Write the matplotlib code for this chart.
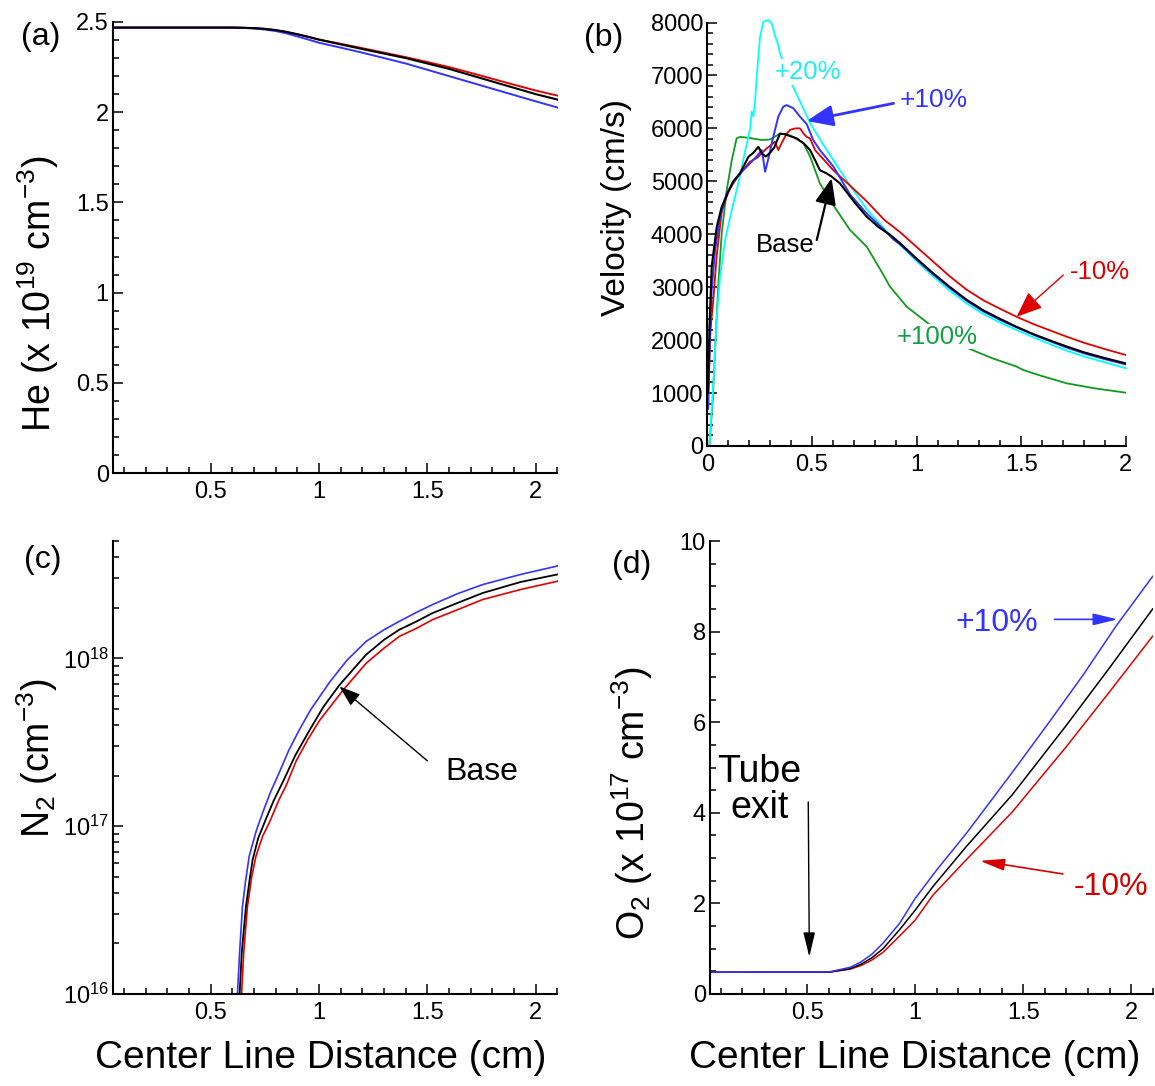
import matplotlib
matplotlib.use("Agg")
import matplotlib.pyplot as plt
from matplotlib.ticker import (MultipleLocator, FormatStrFormatter, FixedLocator,
                               FixedFormatter, LogLocator, NullFormatter)

plt.rcParams["font.family"] = "Liberation Sans"
plt.rcParams["mathtext.fontset"] = "custom"
plt.rcParams["mathtext.rm"] = "Liberation Sans"
plt.rcParams["mathtext.it"] = "Liberation Sans:italic"
plt.rcParams["mathtext.bf"] = "Liberation Sans:bold"
plt.rcParams["mathtext.default"] = "regular"

RED = "#e00000"
BLUE = "#3333ff"
CYAN = "#00ffff"
GREEN = "#109a20"

# (a) He density along the centre line, x 10^19 cm^-3
he_x = [0.05, 0.6, 0.65, 0.7, 0.75, 0.8, 0.85, 0.9, 0.95, 1.0, 1.1, 1.2, 1.3, 1.4,
        1.5, 1.6, 1.7, 1.8, 1.9, 2.0, 2.1]
he_base = [2.469, 2.469, 2.468, 2.466, 2.462, 2.455, 2.445, 2.432, 2.418, 2.402, 2.376,
           2.35, 2.325, 2.30, 2.27, 2.24, 2.205, 2.17, 2.135, 2.10, 2.07]
he_m10 = [2.469, 2.469, 2.468, 2.466, 2.462, 2.455, 2.445, 2.432, 2.418, 2.403, 2.379,
          2.355, 2.33, 2.305, 2.278, 2.25, 2.218, 2.185, 2.152, 2.12, 2.092]
he_p10 = [2.469, 2.469, 2.467, 2.464, 2.458, 2.45, 2.437, 2.42, 2.403, 2.385, 2.358,
          2.33, 2.30, 2.27, 2.235, 2.20, 2.165, 2.13, 2.095, 2.06, 2.026]

# (b) velocity, cm/s
vb_x = [0.003, 0.01, 0.021, 0.045, 0.069, 0.1, 0.124, 0.156, 0.196, 0.22, 0.244, 0.262,
        0.28, 0.3, 0.32, 0.347, 0.37, 0.427, 0.46, 0.491, 0.515, 0.538, 0.57, 0.594,
        0.634, 0.7, 0.762, 0.82, 0.873, 0.921, 1.0, 1.08, 1.16, 1.24, 1.32, 1.40,
        1.478, 1.56, 1.64, 1.717, 1.8, 1.9, 2.0]
vb_base = [1000, 2200, 3390, 4140, 4520, 4800, 5000, 5150, 5460, 5540, 5650, 5520,
           5470, 5540, 5640, 5900, 5890, 5810, 5720, 5590, 5400, 5210, 5150, 5090,
           4960, 4620, 4330, 4130, 3990, 3830, 3540, 3260, 3000, 2760, 2560, 2400,
           2250, 2110, 1990, 1880, 1770, 1660, 1560]

vp10_x = [0.004, 0.013, 0.021, 0.037, 0.061, 0.093, 0.124, 0.172, 0.204, 0.236, 0.26,
          0.268, 0.276, 0.29, 0.308, 0.339, 0.363, 0.379, 0.411, 0.443, 0.475, 0.506,
          0.538, 0.602, 0.682, 0.762, 0.846, 0.89, 0.921, 1.0, 1.08, 1.16, 1.24, 1.32,
          1.40, 1.478, 1.56, 1.64, 1.717, 1.8, 1.9, 2.0]
vb_p10 = [700, 2070, 2950, 3700, 4330, 4770, 4990, 5210, 5340, 5470, 5590, 5400, 5180,
          5400, 5720, 6220, 6410, 6440, 6380, 6220, 6080, 5780, 5590, 5280, 4750,
          4390, 4080, 3900, 3810, 3520, 3240, 2980, 2740, 2540, 2380, 2240, 2100,
          1975, 1860, 1750, 1640, 1540]

vp20_x = [0.01, 0.013, 0.029, 0.045, 0.061, 0.085, 0.117, 0.148, 0.164, 0.18, 0.205,
          0.212, 0.22, 0.228, 0.236, 0.252, 0.268, 0.291, 0.308, 0.323, 0.339, 0.347,
          0.398, 0.45, 0.491, 0.55, 0.602, 0.682, 0.762, 0.846, 0.921, 1.0, 1.08,
          1.16, 1.24, 1.32, 1.40, 1.478, 1.56, 1.64, 1.717, 1.8, 1.9, 2.0]
vb_p20 = [0, 180, 1180, 2440, 3200, 3890, 4460, 4960, 5250, 5560, 6000, 6320, 6230,
          6500, 6980, 7730, 8015, 8047, 7985, 7760, 7575, 7420, 6880, 6450, 6100,
          5720, 5400, 4920, 4470, 4100, 3800, 3490, 3200, 2930, 2690, 2490, 2330,
          2190, 2050, 1920, 1800, 1690, 1580, 1468]

vm10_x = [0.003, 0.015, 0.029, 0.045, 0.069, 0.1, 0.124, 0.156, 0.204, 0.24, 0.283,
          0.31, 0.323, 0.339, 0.355, 0.379, 0.395, 0.42, 0.443, 0.46, 0.475, 0.491,
          0.515, 0.602, 0.682, 0.762, 0.846, 0.921, 1.0, 1.08, 1.16, 1.24, 1.32, 1.40,
          1.478, 1.56, 1.64, 1.717, 1.8, 1.9, 2.0]
vb_m10 = [900, 2200, 2770, 3600, 4430, 4800, 4960, 5150, 5370, 5450, 5620, 5700,
          5750, 5590, 5720, 5900, 5970, 6000, 6000, 5900, 5840, 5810, 5590, 5210,
          4920, 4620, 4270, 4040, 3760, 3480, 3200, 2950, 2750, 2590, 2440, 2300,
          2180, 2065, 1950, 1830, 1719]

vp100_x = [0.01, 0.026, 0.037, 0.053, 0.069, 0.093, 0.117, 0.14, 0.156, 0.2, 0.26, 0.3,
           0.347, 0.38, 0.411, 0.459, 0.491, 0.538, 0.602, 0.682, 0.762, 0.833, 0.873,
           0.953, 1.064, 1.247, 1.36, 1.478, 1.51, 1.6, 1.717, 1.85, 2.0]
vb_p100 = [0, 870, 1810, 3070, 4020, 4840, 5400, 5810, 5840, 5820, 5780, 5790, 5900,
           5890, 5840, 5720, 5470, 4960, 4550, 4080, 3765, 3290, 3010, 2630, 2290,
           1845, 1660, 1500, 1435, 1320, 1184, 1090, 1007]

# (c) N2 density, cm^-3
n2_p10_x = [0.624, 0.634, 0.647, 0.66, 0.678, 0.71, 0.74, 0.775, 0.817, 0.86, 0.908,
            0.96, 1.05, 1.13, 1.217, 1.3, 1.37, 1.45, 1.524, 1.64, 1.755, 1.93, 2.1]
n2_p10 = [1.0e16, 1.78e16, 3.31e16, 4.57e16, 6.61e16, 9.33e16, 1.20e17, 1.58e17,
          2.09e17, 2.82e17, 3.72e17, 4.90e17, 7.24e17, 9.77e17, 1.26e18, 1.48e18,
          1.66e18, 1.88e18, 2.09e18, 2.43e18, 2.75e18, 3.16e18, 3.55e18]
n2_base_x = [0.634, 0.644, 0.663, 0.68, 0.694, 0.72, 0.755, 0.79, 0.832, 0.89, 0.956,
             1.02, 1.094, 1.217, 1.3, 1.37, 1.45, 1.524, 1.64, 1.755, 1.93, 2.1]
n2_base = [1.0e16, 1.78e16, 3.31e16, 4.79e16, 6.31e16, 8.51e16, 1.10e17, 1.41e17,
           1.82e17, 2.63e17, 3.72e17, 5.13e17, 6.92e17, 1.05e18, 1.29e18, 1.48e18,
           1.66e18, 1.86e18, 2.14e18, 2.45e18, 2.85e18, 3.16e18]
n2_m10_x = [0.643, 0.653, 0.67, 0.69, 0.709, 0.74, 0.771, 0.817, 0.848, 0.895, 0.95,
            1.003, 1.111, 1.217, 1.3, 1.37, 1.45, 1.524, 1.64, 1.755, 1.93, 2.1]
n2_m10 = [1.0e16, 1.78e16, 3.31e16, 5.01e16, 6.61e16, 8.71e16, 1.05e17, 1.45e17,
          1.74e17, 2.45e17, 3.31e17, 4.27e17, 6.46e17, 9.33e17, 1.15e18, 1.35e18,
          1.51e18, 1.70e18, 1.95e18, 2.24e18, 2.57e18, 2.88e18]

# (d) O2 density, x 10^17 cm^-3
o2_p10_x = [0.05, 0.6, 0.7, 0.75, 0.8, 0.851, 0.928, 1.0, 1.1, 1.236, 1.35, 1.468,
            1.622, 1.776, 1.93, 2.1]
o2_p10 = [0.48, 0.485, 0.59, 0.71, 0.88, 1.12, 1.56, 2.11, 2.74, 3.54, 4.26, 5.01,
          6.01, 7.03, 8.12, 9.22]
o2_x = [0.05, 0.6, 0.7, 0.75, 0.8, 0.851, 0.928, 1.0, 1.082, 1.236, 1.45, 1.70, 1.9, 2.1]
o2_base = [0.48, 0.482, 0.56, 0.66, 0.8, 1.0, 1.42, 1.85, 2.37, 3.25, 4.40, 5.93, 7.2, 8.5]
o2_m10 = [0.48, 0.48, 0.55, 0.63, 0.75, 0.92, 1.28, 1.63, 2.18, 2.96, 4.02, 5.46, 6.67, 7.9]


def style(ax, xminor, yminor=None):
    for s in ("top", "right"):
        ax.spines[s].set_visible(False)
    for s in ("left", "bottom"):
        ax.spines[s].set_linewidth(1.5)
    ax.tick_params(which="both", direction="in", labelsize=17, width=1.1)
    ax.tick_params(which="major", length=7.5)
    ax.tick_params(which="minor", length=4.5)
    ax.tick_params(axis="y", pad=3)
    ax.tick_params(axis="x", pad=6)
    ax.xaxis.set_minor_locator(MultipleLocator(xminor))
    ax.xaxis.set_major_formatter(FormatStrFormatter("%g"))
    if yminor is not None:
        ax.yaxis.set_minor_locator(MultipleLocator(yminor))
        ax.yaxis.set_major_formatter(FormatStrFormatter("%g"))


def arrow(ax, tip, tail, color, lw, hl, hw):
    ax.annotate("", xy=tip, xytext=tail,
                arrowprops=dict(arrowstyle=f"-|>,head_length={hl},head_width={hw}",
                                color=color, lw=lw, shrinkA=0, shrinkB=0,
                                mutation_scale=1))


fig = plt.figure(figsize=(11.55, 10.86), dpi=100)
W, H = 1155, 1086

# ---- (a) He
ax = fig.add_axes([113 / W, 1 - 473 / H, 444.5 / W, 451 / H])
ax.plot(he_x, he_m10, color=RED, lw=1.4)
ax.plot(he_x, he_p10, color=BLUE, lw=1.4)
ax.plot(he_x, he_base, color="k", lw=1.5)
ax.set_xlim(0.05, 2.1)
ax.set_ylim(0, 2.5)
ax.xaxis.set_major_locator(FixedLocator([0.5, 1, 1.5, 2]))
ax.yaxis.set_major_locator(MultipleLocator(0.5))
style(ax, 0.1, 0.1)

# ---- (b) velocity
ax = fig.add_axes([707.3 / W, 1 - 446 / H, 418.6 / W, 423.5 / H])
ax.plot(vp100_x, vb_p100, color=GREEN, lw=1.3)
ax.plot(vp20_x, vb_p20, color=CYAN, lw=1.3, clip_on=False)
ax.plot(vm10_x, vb_m10, color=RED, lw=1.3)
ax.plot(vp10_x, vb_p10, color=BLUE, lw=1.4)
ax.plot(vb_x, vb_base, color="k", lw=1.5)
ax.set_xlim(0, 2)
ax.set_ylim(0, 8000)
ax.xaxis.set_major_locator(MultipleLocator(0.5))
ax.yaxis.set_major_locator(MultipleLocator(1000))
style(ax, 0.1, 200)
ax.text(0.483, 7070, "+20%", color="#20eeee", fontsize=18.5, ha="center", va="center",
        bbox=dict(fc="white", ec="none", pad=0.5), zorder=5)
ax.text(1.083, 6536, "+10%", color=BLUE, fontsize=19, ha="center", va="center")
arrow(ax, (0.475, 6140), (0.89, 6473), BLUE, 2.0, 16, 6.5)
ax.text(0.371, 3797, "Base", color="k", fontsize=18.5, ha="center", va="center")
arrow(ax, (0.594, 5056), (0.523, 3891), "k", 1.6, 16, 6.5)
ax.text(1.876, 3293, "-10%", color="#dd0000", fontsize=18.5, ha="center", va="center")
arrow(ax, (1.478, 2442), (1.701, 3230), "#dd0000", 1.0, 16, 6.5)
ax.text(1.10, 2065, "+100%", color="#10a040", fontsize=18.5, ha="center", va="center",
        bbox=dict(fc="white", ec="none", pad=0.5), zorder=5)

# ---- (c) N2
ax = fig.add_axes([113 / W, 1 - 994 / H, 444.5 / W, 453 / H])
ax.plot(n2_m10_x, n2_m10, color=RED, lw=1.2)
ax.plot(n2_p10_x, n2_p10, color=BLUE, lw=1.2)
ax.plot(n2_base_x, n2_base, color="k", lw=1.3)
ax.set_yscale("log")
ax.set_xlim(0.05, 2.1)
ax.set_ylim(1e16, 5e18)
ax.xaxis.set_major_locator(FixedLocator([0.5, 1, 1.5, 2]))
style(ax, 0.1)
ax.yaxis.set_major_locator(FixedLocator([1e16, 1e17, 1e18]))
ax.yaxis.set_major_formatter(FixedFormatter(["10$^{16}$", "10$^{17}$", "10$^{18}$"]))
ax.yaxis.set_minor_locator(LogLocator(base=10, subs=range(2, 10)))
ax.yaxis.set_minor_formatter(NullFormatter())
ax.text(1.75, 2.1e17, "Base", fontsize=23, ha="center", va="center")
arrow(ax, (1.094, 6.8e17), (1.50, 2.45e17), "k", 1.0, 13, 4.5)

# ---- (d) O2
ax = fig.add_axes([710 / W, 1 - 994 / H, 442.7 / W, 453 / H])
ax.plot(o2_x, o2_m10, color=RED, lw=1.1)
ax.plot(o2_x, o2_base, color="k", lw=1.1)
ax.plot(o2_p10_x, o2_p10, color=BLUE, lw=1.1)
ax.set_xlim(0.05, 2.1)
ax.set_ylim(0, 10)
ax.xaxis.set_major_locator(FixedLocator([0.5, 1, 1.5, 2]))
ax.yaxis.set_major_locator(MultipleLocator(2))
style(ax, 0.1, 0.5)
ax.text(0.28, 4.5, "Tube\nexit", fontsize=27, ha="center", va="center", linespacing=1.0)
arrow(ax, (0.51, 0.82), (0.505, 4.24), "k", 1.0, 15, 3.6)
ax.text(1.376, 8.18, "+10%", color=BLUE, fontsize=23, ha="center", va="center")
arrow(ax, (1.938, 8.27), (1.645, 8.27), BLUE, 1.2, 15, 3.6)
ax.text(1.907, 2.37, "-10%", color="#d40000", fontsize=23, ha="center", va="center")
arrow(ax, (1.30, 2.94), (1.684, 2.65), "#d40000", 1.2, 15, 3.6)

# axis titles and panel letters
fig.text(38 / W, 1 - 294 / H, "He (x 10$^{19}$ cm$^{-3}$)", fontsize=27,
         rotation=90, ha="center", va="center")
fig.text(616 / W, 1 - 207 / H, "Velocity (cm/s)", fontsize=24,
         rotation=90, ha="center", va="center")
fig.text(37 / W, 1 - 758 / H, "N$_2$ (cm$^{-3}$)", fontsize=27,
         rotation=90, ha="center", va="center")
fig.text(632 / W, 1 - 803 / H, "O$_2$ (x 10$^{17}$ cm$^{-3}$)", fontsize=27,
         rotation=90, ha="center", va="center")
fig.text(321 / W, 1 - 1058 / H, "Center Line Distance (cm)", fontsize=28,
         ha="center", va="center")
fig.text(915 / W, 1 - 1058 / H, "Center Line Distance (cm)", fontsize=28,
         ha="center", va="center")
for lab, px, py in [("(a)", 41, 37), ("(b)", 604, 38), ("(c)", 43, 560), ("(d)", 632, 565)]:
    fig.text(px / W, 1 - py / H, lab, fontsize=23, ha="center", va="center")

fig.savefig("out.png", dpi=100)
